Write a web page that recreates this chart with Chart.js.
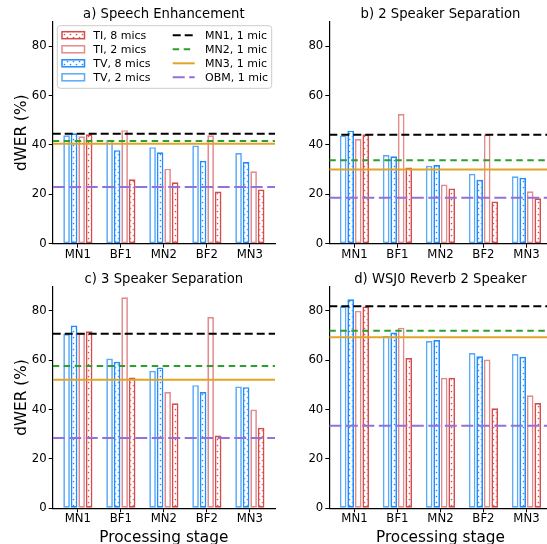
<!DOCTYPE html>
<html>
<head>
<meta charset="utf-8">
<script src="https://cdn.jsdelivr.net/npm/chart.js@4.4.1/dist/chart.umd.min.js"></script>
<style>
  html, body { margin: 0; padding: 0; background: #fff; overflow: hidden; }
  #wrap { position: relative; width: 547px; height: 544px; overflow: hidden; background: #fff; }
  #wrap canvas { position: absolute; left: 0; top: 0; }
</style>
</head>
<body>
<div id="wrap">
  <canvas id="pa" width="560" height="544"></canvas>
  <canvas id="pb" width="560" height="544"></canvas>
  <canvas id="pc" width="560" height="544"></canvas>
  <canvas id="pd" width="560" height="544"></canvas>
</div>
<script>
const stages = ["MN1", "BF1", "MN2", "BF2", "MN3"];
const yTicks = [0, 20, 40, 60, 80];
const refNames = ["MN1, 1 mic", "MN2, 1 mic", "MN3, 1 mic", "OBM, 1 mic"];

// a) Speech Enhancement
const seTv2 = [43.9, 42.0, 39.1, 39.8, 36.7];
const seTv8 = [44.7, 37.9, 37.0, 33.6, 33.1];
const seTi2 = [43.5, 46.0, 30.4, 43.9, 29.3];
const seTi8 = [44.3, 26.1, 24.9, 21.1, 22.0];
const seRef = [44.5, 41.6, 40.5, 23.0];

// b) 2 Speaker Separation
const s2Tv2 = [43.8, 35.9, 31.6, 28.3, 27.3];
const s2Tv8 = [45.8, 35.4, 31.9, 25.9, 26.7];
const s2Ti2 = [42.4, 52.5, 24.0, 44.2, 21.2];
const s2Ti8 = [44.3, 30.9, 22.4, 17.1, 18.4];
const s2Ref = [44.1, 33.8, 30.1, 18.6];

// c) 3 Speaker Separation
const s3Tv2 = [70.6, 60.7, 55.7, 49.9, 49.4];
const s3Tv8 = [74.1, 59.4, 57.1, 47.1, 49.1];
const s3Ti2 = [70.9, 85.5, 47.1, 77.5, 40.0];
const s3Ti8 = [71.7, 53.0, 42.6, 29.5, 32.6];
const s3Ref = [70.7, 57.7, 52.1, 28.5];

// d) WSJ0 Reverb 2 Speaker
const rvTv2 = [81.9, 69.8, 67.8, 62.9, 62.5];
const rvTv8 = [84.7, 71.2, 68.2, 61.6, 61.4];
const rvTi2 = [80.0, 73.2, 52.9, 60.3, 45.8];
const rvTi8 = [81.8, 60.9, 52.9, 40.5, 42.7];
const rvRef = [81.9, 71.9, 69.3, 33.5];

const FONT = "'DejaVu Sans', sans-serif";
const W = 560, H = 544, Y_W = 45, X_H = 30;

const tv8Color = '#1e8cff';
const tv2Color = '#5aaaf8';
const ti8Color = '#d64b4b';
const ti2Color = '#e38a8a';
const refStyles = [
  { color: '#000000', dash: [8, 4] },
  { color: '#2ca02c', dash: [6.5, 4.5] },
  { color: '#e0a526', dash: [] },
  { color: '#9370db', dash: [12, 4.5] }
];

function dots(color) {
  const c = document.createElement('canvas');
  c.width = 6; c.height = 6;
  const g = c.getContext('2d');
  g.fillStyle = '#fff';
  g.fillRect(0, 0, 6, 6);
  g.fillStyle = color;
  g.beginPath(); g.arc(1.5, 1.5, 0.85, 0, Math.PI * 2); g.fill();
  g.beginPath(); g.arc(4.5, 4.5, 0.85, 0, Math.PI * 2); g.fill();
  return g.createPattern(c, 'repeat');
}
const tv8Fill = dots(tv8Color);
const ti8Fill = dots(ti8Color);

const barKinds = [
  { label: 'TV, 2 mics', edge: tv2Color, fill: '#fff' },
  { label: 'TV, 8 mics', edge: tv8Color, fill: tv8Fill },
  { label: 'TI, 2 mics', edge: ti2Color, fill: '#fff' },
  { label: 'TI, 8 mics', edge: ti8Color, fill: ti8Fill }
];

const panelDeco = {
  id: 'panelDeco',
  afterDatasetsDraw(chart, args, opts) {
    const { ctx, chartArea: a, scales: { y } } = chart;
    ctx.save();
    ctx.beginPath();
    ctx.rect(a.left, a.top, a.right - a.left, a.bottom - a.top);
    ctx.clip();
    opts.refs.forEach((v, i) => {
      const s = refStyles[i];
      const py = y.getPixelForValue(v);
      ctx.strokeStyle = s.color;
      ctx.lineWidth = 2;
      ctx.setLineDash(s.dash);
      ctx.beginPath();
      ctx.moveTo(a.left, py);
      ctx.lineTo(a.right, py);
      ctx.stroke();
    });
    ctx.restore();
  },
  afterDraw(chart, args, opts) {
    const { ctx, chartArea: a } = chart;
    const cx = (a.left + a.right) / 2;
    ctx.save();
    ctx.fillStyle = '#000';
    ctx.textAlign = 'center';
    ctx.textBaseline = 'alphabetic';
    ctx.font = '13.2px ' + FONT;
    ctx.fillText(opts.title, cx, a.top - 4);
    ctx.font = '15.3px ' + FONT;
    if (opts.xLabel) ctx.fillText('Processing stage', cx, 542);
    if (opts.yLabel) {
      ctx.save();
      ctx.translate(25.5, (a.top + a.bottom) / 2);
      ctx.rotate(-Math.PI / 2);
      ctx.fillText('dWER (%)', 0, 0);
      ctx.restore();
    }
    if (opts.legend) drawLegend(ctx);
    ctx.restore();
  }
};

function roundRect(ctx, x, y, w, h, r) {
  ctx.beginPath();
  ctx.moveTo(x + r, y);
  ctx.arcTo(x + w, y, x + w, y + h, r);
  ctx.arcTo(x + w, y + h, x, y + h, r);
  ctx.arcTo(x, y + h, x, y, r);
  ctx.arcTo(x, y, x + w, y, r);
  ctx.closePath();
}

function drawLegend(ctx) {
  roundRect(ctx, 57.3, 25.7, 214.4, 62.6, 3);
  ctx.fillStyle = 'rgba(255,255,255,0.85)';
  ctx.fill();
  ctx.strokeStyle = '#cccccc';
  ctx.lineWidth = 1;
  ctx.stroke();
  const rows = [35.2, 49.3, 63.3, 77.3];
  const left = [barKinds[3], barKinds[2], barKinds[1], barKinds[0]];
  ctx.font = '11px ' + FONT;
  ctx.textAlign = 'left';
  ctx.textBaseline = 'middle';
  left.forEach((k, i) => {
    ctx.fillStyle = k.fill;
    ctx.fillRect(62, rows[i] - 3.5, 22.5, 7);
    ctx.strokeStyle = k.edge;
    ctx.lineWidth = 1.5;
    ctx.strokeRect(62, rows[i] - 3.5, 22.5, 7);
    ctx.fillStyle = '#000';
    ctx.fillText(k.label, 93.3, rows[i] + 0.5);
  });
  refNames.forEach((n, i) => {
    const s = refStyles[i];
    ctx.strokeStyle = s.color;
    ctx.lineWidth = 2;
    ctx.setLineDash(s.dash);
    ctx.beginPath();
    ctx.moveTo(172.7, rows[i]);
    ctx.lineTo(194.7, rows[i]);
    ctx.stroke();
    ctx.setLineDash([]);
    ctx.fillStyle = '#000';
    ctx.fillText(n, 205, rows[i] + 0.5);
  });
}

function axisFont() { return { family: FONT, size: 11.7 }; }

function makePanel(id, p) {
  const series = [p.tv2, p.tv8, p.ti2, p.ti8];
  new Chart(document.getElementById(id), {
    type: 'bar',
    data: {
      datasets: barKinds.map((k, j) => ({
        label: k.label,
        data: series[j].map((v, i) => ({ x: i, y: v })),
        backgroundColor: k.fill,
        borderColor: k.edge,
        borderWidth: 1.7,
        borderSkipped: false,
        categoryPercentage: 0.7,
        barPercentage: 0.88
      }))
    },
    options: {
      responsive: false,
      animation: false,
      events: [],
      layout: {
        padding: { left: p.area[0] - Y_W, top: p.area[1], right: W - p.area[2], bottom: H - p.area[3] - X_H }
      },
      plugins: {
        legend: { display: false },
        tooltip: { enabled: false },
        title: { display: false },
        panelDeco: { title: p.title, refs: p.refs, xLabel: p.xLabel, yLabel: p.yLabel, legend: p.legend }
      },
      scales: {
        x: {
          type: 'linear',
          min: -0.585,
          max: 4.585,
          offset: false,
          afterBuildTicks: s => { s.ticks = stages.map((_, i) => ({ value: i })); },
          afterFit: s => { s.height = X_H; },
          ticks: {
            autoSkip: false, maxRotation: 0, minRotation: 0, padding: 0,
            color: '#000', font: axisFont(),
            callback: v => stages[Math.round(v)]
          },
          grid: { display: true, drawOnChartArea: false, drawTicks: true, tickLength: 4, color: '#000', lineWidth: 1, offset: false },
          border: { display: true, color: '#000', width: 1.2 }
        },
        y: {
          min: 0,
          max: 89.8,
          afterBuildTicks: s => { s.ticks = yTicks.map(v => ({ value: v })); },
          afterFit: s => { s.width = Y_W; },
          ticks: { padding: 2, color: '#000', font: axisFont() },
          grid: { display: true, drawOnChartArea: false, drawTicks: true, tickLength: 4, color: '#000', lineWidth: 1 },
          border: { display: true, color: '#000', width: 1.2 }
        }
      }
    },
    plugins: [panelDeco]
  });
}

makePanel('pa', { title: 'a) Speech Enhancement', tv2: seTv2, tv8: seTv8, ti2: seTi2, ti8: seTi8, refs: seRef,
  area: [52.7, 22, 275, 243.7], yLabel: true, xLabel: false, legend: true });
makePanel('pb', { title: 'b) 2 Speaker Separation', tv2: s2Tv2, tv8: s2Tv8, ti2: s2Ti2, ti8: s2Ti8, refs: s2Ref,
  area: [329.3, 22, 551.6, 243.7], yLabel: false, xLabel: false, legend: false });
makePanel('pc', { title: 'c) 3 Speaker Separation', tv2: s3Tv2, tv8: s3Tv8, ti2: s3Ti2, ti8: s3Ti8, refs: s3Ref,
  area: [52.7, 286.7, 275, 508.3], yLabel: true, xLabel: true, legend: false });
makePanel('pd', { title: 'd) WSJ0 Reverb 2 Speaker', tv2: rvTv2, tv8: rvTv8, ti2: rvTi2, ti8: rvTi8, refs: rvRef,
  area: [329.3, 286.7, 551.6, 508.3], yLabel: false, xLabel: true, legend: false });
</script>
</body>
</html>
